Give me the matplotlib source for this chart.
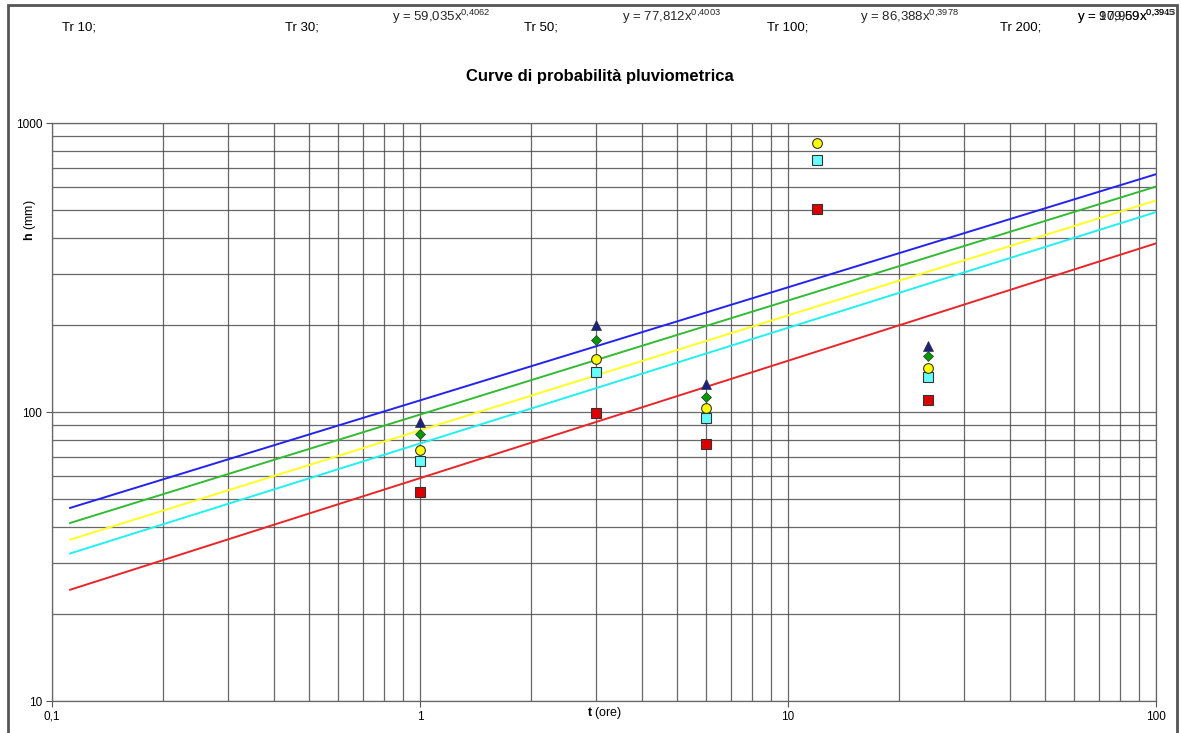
import numpy as np
import matplotlib
matplotlib.use("Agg")
import matplotlib.pyplot as plt
from matplotlib.ticker import FixedLocator, NullFormatter, FuncFormatter
from matplotlib.patches import Rectangle

plt.rcParams['font.family'] = ['Liberation Sans', 'DejaVu Sans']
plt.rcParams['mathtext.fontset'] = 'custom'
plt.rcParams['mathtext.rm'] = 'Liberation Sans'
plt.rcParams['mathtext.bf'] = 'Liberation Sans:bold'

# Durations (hours) and observed rainfall heights (mm) per return period
durations = [1, 3, 6, 12, 24]
h_tr10 = [53, 99.6, 77.8, 504, 110.4]
h_tr30 = [67.9, 137, 95, 745, 131.8]
h_tr50 = [74.1, 153, 103, 853, 141.5]
h_tr100 = [83.6, 177, 113, 1150, 155.7]
h_tr200 = [92.7, 199.5, 124.5, 1300, 168.6]

# Power-law fit coefficients h = a * t^n
coef_a = [59.035, 77.812, 86.388, 97.959, 109.69]
coef_n = [0.4062, 0.4003, 0.3978, 0.3945, 0.3913]
t_range = [0.112, 100]

tr_labels = ['Tr 10;', 'Tr 30;', 'Tr 50;', 'Tr 100;', 'Tr 200;']
line_colors = ['#e8262a', '#22f0f0', '#ffff22', '#33bb33', '#2323f0']

fig = plt.figure(figsize=(11.81, 7.33), dpi=100)
ax = fig.add_axes([52 / 1181, 1 - 701 / 733, (1156 - 52) / 1181, (701 - 123) / 733])

# Outer frame around the sheet
fig.patches.append(Rectangle((8 / 1181, -0.05), (1177 - 8) / 1181, 1 - 5 / 733 + 0.05,
                             transform=fig.transFigure, fill=False,
                             edgecolor='#555555', linewidth=2.0))

ax.set_xscale('log')
ax.set_yscale('log')
ax.set_xlim(0.1, 100)
ax.set_ylim(10, 1000)

# Trend lines
t_line = np.logspace(np.log10(t_range[0]), np.log10(t_range[1]), 50)
for a, n, c in zip(coef_a, coef_n, line_colors):
    ax.plot(t_line, a * t_line ** n, color=c, linewidth=1.4, zorder=3)

# Observed points
ax.plot(durations, h_tr10, 's', color='#dd0000', mec='#333333', mew=0.8, ms=7, zorder=4)
ax.plot(durations, h_tr30, 's', color='#66ffff', mec='#333333', mew=0.8, ms=7, zorder=4)
ax.plot(durations, h_tr50, 'o', color='#ffff00', mec='#333333', mew=0.8, ms=7, zorder=4)
ax.plot(durations, h_tr100, 'D', color='#009900', mec='#333333', mew=0.5, ms=5, zorder=4)
ax.plot(durations, h_tr200, '^', color='#1a237e', mec='#333333', mew=0.5, ms=7, zorder=4)

# Grid
ax.xaxis.set_minor_locator(FixedLocator([m * 10.0 ** e for e in range(-1, 2) for m in range(2, 10)]))
ax.yaxis.set_minor_locator(FixedLocator([m * 10.0 ** e for e in range(1, 3) for m in range(2, 10)]))
ax.xaxis.set_minor_formatter(NullFormatter())
ax.yaxis.set_minor_formatter(NullFormatter())
ax.xaxis.set_major_locator(FixedLocator([0.1, 1, 10, 100]))
ax.yaxis.set_major_locator(FixedLocator([10, 100, 1000]))
ax.xaxis.set_major_formatter(FuncFormatter(lambda v, p: f'{v:g}'.replace('.', ',')))
ax.yaxis.set_major_formatter(FuncFormatter(lambda v, p: f'{v:g}'))
ax.grid(True, which='both', color='#444444', linewidth=0.9, alpha=0.8)
ax.set_axisbelow(True)
ax.tick_params(which='minor', length=0)
ax.tick_params(which='major', length=4, width=0.8, color='#555555', labelsize=8.5, pad=3)
for s in ax.spines.values():
    s.set_color('#666666')
    s.set_linewidth(0.9)

# Axis titles placed like the original sheet
fig.text(605 / 1181, 1 - 713 / 733, r'$\mathbf{t}$ (ore)', ha='center', va='center', fontsize=9)
fig.text(30 / 1181, 1 - 220 / 733, r'$\mathbf{h}$ (mm)', ha='center', va='center',
         fontsize=9, rotation=90)

fig.text(600 / 1181, 1 - 76 / 733, 'Curve di probabilità pluviometrica',
         ha='center', va='center', fontsize=12, fontweight='bold')

# Header labels and equations
tr_x = [62, 285, 524, 767, 1000]
for lab, x in zip(tr_labels, tr_x):
    fig.text(x / 1181, 1 - 27 / 733, lab, ha='left', va='center', fontsize=9.5)

eq_x = [392, 622, 860, 1077, 1077]
for a, n, x in zip(coef_a, coef_n, eq_x):
    a_s = f'{a:.3f}'.rstrip('0').replace('.', ',') if a > 100 else f'{a:.3f}'.replace('.', ',')
    n_s = f'{n:.4f}'.replace('.', '{,}')
    fig.text(x / 1181, 1 - 17 / 733, f'y = {a_s}x$^{{{n_s}}}$', ha='left', va='center',
             fontsize=9.5, alpha=0.85)

fig.savefig('out.png', dpi=100)
